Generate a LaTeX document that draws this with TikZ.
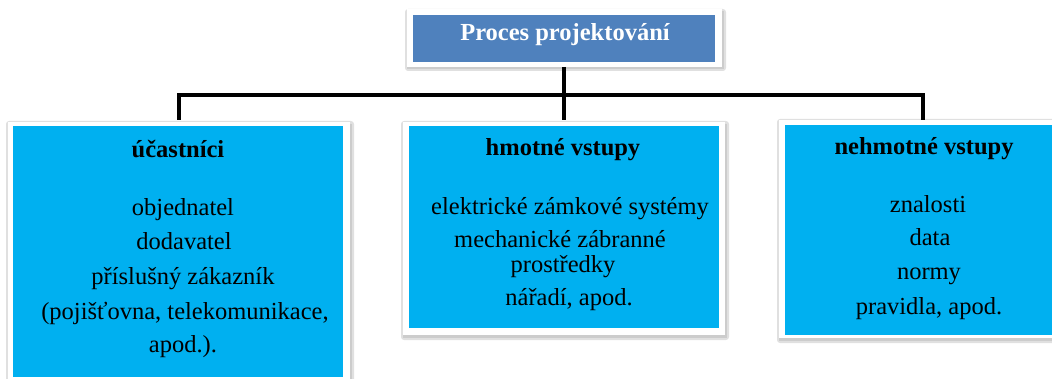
\documentclass[tikz,border=0pt]{standalone}
\usepackage{fontspec}
\setmainfont{Liberation Serif}
\newfontfamily\boxserif{Liberation Serif}
\definecolor{headblue}{HTML}{4F81BD}
\definecolor{boxblue}{HTML}{00B0F0}
\definecolor{shadowgray}{HTML}{A6A6A6}
\tikzset{
  frame/.style={fill=white, draw=none},
  dropshadow/.style={fill=shadowgray, opacity=0.35, draw=none},
  panel/.style={fill=boxblue, draw=none},
  head/.style={fill=headblue, draw=none},
  txt/.style={font=\boxserif\fontsize{24.5}{30}\selectfont, text height=0.7em, text depth=0.25em, inner sep=0pt},
  ttl/.style={txt, font=\boxserif\fontsize{24.5}{30}\selectfont\bfseries},
  link/.style={line width=4pt, black}
}
\begin{document}
\begin{tikzpicture}[x=1pt, y=-1pt]
\useasboundingbox (0,0) rectangle (1052,379);
% heading box
\fill[dropshadow, rounded corners=3pt] (405,9) rectangle (726,71);
\fill[dropshadow] (407,11) rectangle (724,69);
\fill[frame] (407,9) rectangle (722,67);
\fill[head] (413,15) rectangle (715,62);
\node[ttl, text=white] (top) at (565,38) {Proces projektování};
\coordinate (topfoot) at (564,67);
% three panels
\fill[dropshadow, rounded corners=3pt] (6,121) rectangle (354,385);
\fill[dropshadow] (8,124) rectangle (352,385);
\fill[frame] (8,122) rectangle (350,382);
\fill[panel] (13,126) rectangle (343,377);
\fill[dropshadow, rounded corners=3pt] (401,121) rectangle (729,340);
\fill[dropshadow] (403,124) rectangle (727,338);
\fill[frame] (403,122) rectangle (725,335);
\fill[panel] (409,126) rectangle (719,328);
\fill[dropshadow, rounded corners=3pt] (777,119) rectangle (1060,343);
\fill[dropshadow] (779,122) rectangle (1060,341);
\fill[frame] (779,120) rectangle (1060,338);
\fill[panel] (785,125) rectangle (1060,335);
\coordinate (leftTop) at (179,120);
\coordinate (midTop) at (564,120);
\coordinate (rightTop) at (923,120);
\coordinate (bus) at (564,95.5);
% connectors
\draw[link] (topfoot) -- (bus);
\draw[link] (leftTop) |- (bus) -| (rightTop);
\draw[link] (bus) -- (midTop);
% left panel texts
\node[ttl] (pTitle) at (178,155) {účastníci};
\node[txt] (p1) at (183,213) {objednatel};
\node[txt] (p2) at (184,247) {dodavatel};
\node[txt] (p3) at (183,282) {příslušný zákazník};
\node[txt] (p4) at (185,317) {(pojišťovna, telekomunikace,};
\node[txt] (p5) at (183,350) {apod.).};
% middle panel texts
\node[ttl] (mTitle) at (563,153) {hmotné vstupy};
\node[txt] (m1) at (570,212) {elektrické zámkové systémy};
\node[txt] (m2) at (560,245) {mechanické zábranné};
\node[txt] (m3) at (563,270) {prostředky};
\node[txt] (m4) at (569,303) {nářadí, apod.};
% right panel texts
\node[ttl] (nTitle) at (924,152) {nehmotné vstupy};
\node[txt] (n1) at (928,210) {znalosti};
\node[txt] (n2) at (930,243) {data};
\node[txt] (n3) at (929,277) {normy};
\node[txt] (n4) at (929,312) {pravidla, apod.};
\end{tikzpicture}
\end{document}
